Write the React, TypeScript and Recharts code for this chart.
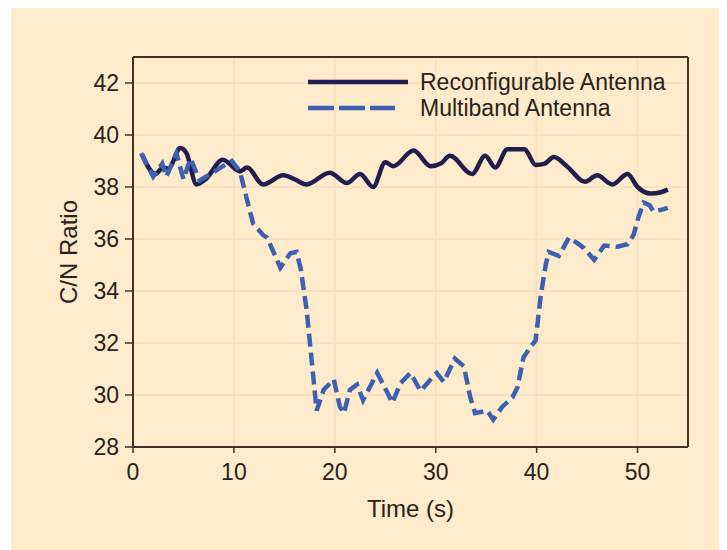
import React from "react";
import {
  LineChart,
  Line,
  XAxis,
  YAxis,
  CartesianGrid,
  Legend,
  ReferenceLine,
} from "recharts";

const xTicks = [0, 10, 20, 30, 40, 50];
const yTicks = [28, 30, 32, 34, 36, 38, 40, 42];

const reconfigTime = [
  0.9, 2.2, 3.0, 3.5, 4.7, 5.3, 6.3, 7.2, 8.9, 10.6, 11.3, 12.9, 14.9, 16.0,
  17.2, 19.5, 21.2, 22.5, 23.8, 25.0, 25.8, 27.8, 29.5, 30.5, 31.4, 33.6, 34.9,
  35.9, 37.1, 38.8, 39.9, 40.8, 41.7, 43.0, 44.8, 46.0, 47.5, 49.0, 50.0, 51.3,
  52.3, 53.0,
];
const reconfigCN = [
  39.25, 38.5, 38.75, 38.7, 39.5, 39.3, 38.1, 38.3, 39.05, 38.6, 38.75, 38.1,
  38.45, 38.3, 38.1, 38.55, 38.15, 38.5, 38.0, 38.95, 38.8, 39.4, 38.8, 38.9,
  39.2, 38.5, 39.2, 38.75, 39.45, 39.45, 38.85, 38.9, 39.15, 38.8, 38.2, 38.45,
  38.1, 38.5, 38.0, 37.75, 37.8, 37.9,
];

const multiTime = [
  0.8, 2.0, 2.9, 3.3, 4.3, 5.0, 5.7, 6.6, 7.7, 8.9, 9.8, 10.6, 11.3, 11.9, 12.9,
  13.3, 14.6, 15.6, 16.2, 16.6, 17.2, 17.7, 18.2, 18.9, 19.9, 20.5, 20.9, 21.5,
  22.2, 22.8, 24.2, 25.2, 25.7, 26.5, 27.5, 28.5, 29.5, 30.1, 30.8, 31.9, 32.8,
  33.4, 33.9, 35.1, 35.7, 36.6, 37.6, 38.1, 38.7, 39.4, 39.9, 40.4, 40.9, 41.2,
  42.2, 43.2, 44.0, 44.7, 45.7, 46.7, 48.0, 49.0, 49.6, 50.1, 50.6, 51.2, 51.6,
  52.6, 53.0,
];
const multiCN = [
  39.3, 38.4, 38.9, 38.4, 39.3, 38.3, 39.1, 38.25, 38.5, 38.8, 39.0, 38.6, 37.5,
  36.6, 36.15, 36.05, 34.9, 35.45, 35.5, 34.9, 33.3, 31.35, 29.4, 30.2, 30.6,
  29.55, 29.3, 30.2, 30.4, 29.8, 30.85, 30.1, 29.7, 30.45, 30.85, 30.15, 30.6,
  30.85, 30.5, 31.4, 31.1, 29.95, 29.3, 29.4, 29.05, 29.55, 29.9, 30.3, 31.45,
  31.85, 32.1, 33.8, 35.0, 35.5, 35.35, 36.05, 35.85, 35.65, 35.2, 35.75, 35.7,
  35.8, 36.15, 36.85, 37.4, 37.3, 37.05, 37.15, 37.2,
];

const seriesNames = ["Reconfigurable Antenna", "Multiband Antenna"];

const reconfigData = reconfigTime.map((t, i) => ({ t, v: reconfigCN[i] }));
const multiData = multiTime.map((t, i) => ({ t, v: multiCN[i] }));

const FONT = '"Liberation Sans", Arial, Helvetica, sans-serif';
const TEXT = "#2a2218";
const AXIS = "#3e3122";
const SOLID = "#221c4f";
const DASH = "#3d61b2";

const LegendBox = () => (
  <svg width={430} height={60} style={{ display: "block" }}>
    <line x1={10} y1={19} x2={110} y2={19} stroke={SOLID} strokeWidth={4.5} />
    <line
      x1={10}
      y1={45}
      x2={97}
      y2={45}
      stroke={DASH}
      strokeWidth={4.5}
      strokeDasharray="26 5"
    />
    <text x={122} y={19} dominantBaseline="central" fontSize={23} fill={TEXT} fontFamily={FONT}>
      {seriesNames[0]}
    </text>
    <text x={122} y={45} dominantBaseline="central" fontSize={23} fill={TEXT} fontFamily={FONT}>
      {seriesNames[1]}
    </text>
  </svg>
);

export default function App() {
  return (
    <div style={{ position: "relative", width: 719, height: 542 }}>
      <div
        style={{
          position: "absolute",
          left: 3,
          top: 0,
          width: 716,
          height: 542,
          background: "#fdebcb",
        }}
      />
      <div style={{ position: "absolute", left: 0, top: 0 }}>
        <LineChart
          width={719}
          height={542}
          margin={{ top: 49, right: 39, left: 65, bottom: 33 }}
          style={{ fontFamily: FONT }}
        >
          <CartesianGrid
            horizontalValues={yTicks}
            verticalValues={[10, 20, 30, 40, 50]}
            stroke="#f6e2c3"
            strokeWidth={2}
          />
          <XAxis
            dataKey="t"
            type="number"
            domain={[0, 55]}
            ticks={xTicks}
            allowDataOverflow
            height={70}
            tickSize={6}
            tickMargin={11}
            stroke={AXIS}
            axisLine={{ stroke: AXIS, strokeWidth: 2 }}
            tickLine={{ stroke: AXIS, strokeWidth: 1.5 }}
            tick={{ fontSize: 23, fill: TEXT, fontFamily: FONT }}
            label={{
              value: "Time (s)",
              position: "insideBottom",
              offset: 0,
              fontSize: 24,
              fill: TEXT,
              fontFamily: FONT,
            }}
          />
          <YAxis
            type="number"
            domain={[28, 43]}
            ticks={yTicks}
            allowDataOverflow
            width={60}
            tickSize={8}
            tickMargin={6}
            stroke={AXIS}
            axisLine={{ stroke: AXIS, strokeWidth: 2 }}
            tickLine={{ stroke: AXIS, strokeWidth: 1.5 }}
            tick={{ fontSize: 23, fill: TEXT, fontFamily: FONT }}
            label={{
              value: "C/N Ratio",
              angle: -90,
              position: "insideLeft",
              offset: -5,
              fontSize: 24,
              fill: TEXT,
              fontFamily: FONT,
              style: { textAnchor: "middle" },
            }}
          />
          <ReferenceLine y={43} stroke={AXIS} strokeWidth={2} />
          <ReferenceLine x={55} stroke={AXIS} strokeWidth={2} />
          <Line
            data={reconfigData}
            dataKey="v"
            name={seriesNames[0]}
            type="monotone"
            stroke={SOLID}
            strokeWidth={4.5}
            dot={false}
            activeDot={false}
            isAnimationActive={false}
          />
          <Line
            data={multiData}
            dataKey="v"
            name={seriesNames[1]}
            type="linear"
            stroke={DASH}
            strokeWidth={4.5}
            strokeDasharray="13 6"
            dot={false}
            activeDot={false}
            isAnimationActive={false}
          />
          <Legend
            layout="horizontal"
            verticalAlign="middle"
            align="center"
            content={() => <LegendBox />}
            wrapperStyle={{ left: 290, top: 55, width: 430, height: 60 }}
          />
        </LineChart>
      </div>
    </div>
  );
}
